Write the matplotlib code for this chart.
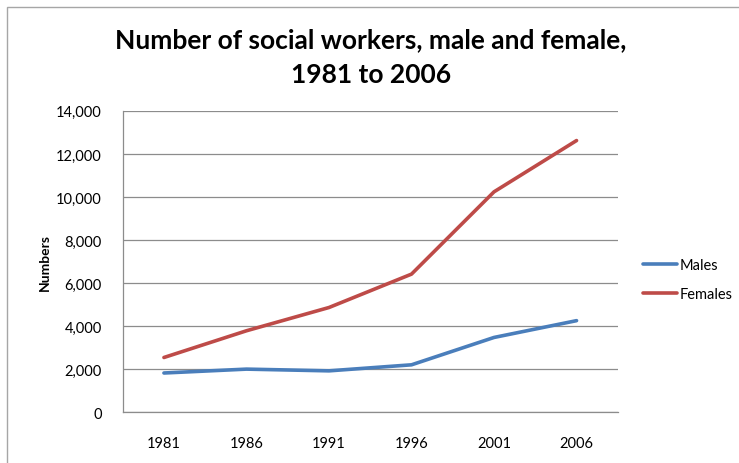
import matplotlib.pyplot as plt
from matplotlib.patches import Rectangle
from matplotlib.ticker import FuncFormatter

years = ['1981', '1986', '1991', '1996', '2001', '2006']
males = [1830, 2010, 1930, 2210, 3480, 4260]
females = [2550, 3790, 4870, 6420, 10240, 12620]

plt.rcParams['font.family'] = ['Lato', 'DejaVu Sans']

fig = plt.figure(figsize=(7.39, 4.64), dpi=100)
ax = fig.add_axes([0.166, 0.109, 0.670, 0.650])

# chart area frame (only top and left edges visible in the crop)
fig.patches.append(Rectangle((7 / 739, -0.1), 1.2, 1.1 - 8 / 464,
                             transform=fig.transFigure, fill=False,
                             edgecolor='#a6a6a6', linewidth=1.0))

x = range(len(years))
ax.plot(x, males, color='#4a7ebb', linewidth=2.6, label='Males', solid_capstyle='round')
ax.plot(x, females, color='#be4b48', linewidth=2.6, label='Females', solid_capstyle='round')

ax.set_xlim(-0.5, len(years) - 0.5)
ax.set_ylim(0, 14000)
ax.set_yticks(range(0, 14001, 2000))
ax.yaxis.set_major_formatter(FuncFormatter(lambda v, p: f'{int(v):,}'))
ax.set_xticks(list(x))
ax.set_xticklabels(years)
ax.tick_params(axis='both', length=0, labelsize=10.5, colors='black')
ax.tick_params(axis='y', pad=15)
ax.tick_params(axis='x', pad=17)

ax.grid(axis='y', color='#8c8c8c', linewidth=0.9)
ax.set_axisbelow(True)
for s in ['top', 'right']:
    ax.spines[s].set_visible(False)
for s in ['left', 'bottom']:
    ax.spines[s].set_color('#8c8c8c')
    ax.spines[s].set_linewidth(0.9)

ax.set_ylabel('Numbers', fontsize=10, fontweight='bold', labelpad=4)

fig.text(0.502, 0.876, 'Number of social workers, male and female,\n1981 to 2006',
         ha='center', va='center', fontsize=19, fontweight='bold', linespacing=1.52)

ax.legend(loc='center left', bbox_to_anchor=(1.039, 0.44), frameon=False,
          borderaxespad=0, fontsize=10.5, handlelength=2.33, handletextpad=0.2,
          labelspacing=1.05)

fig.savefig('out.png', dpi=100)
